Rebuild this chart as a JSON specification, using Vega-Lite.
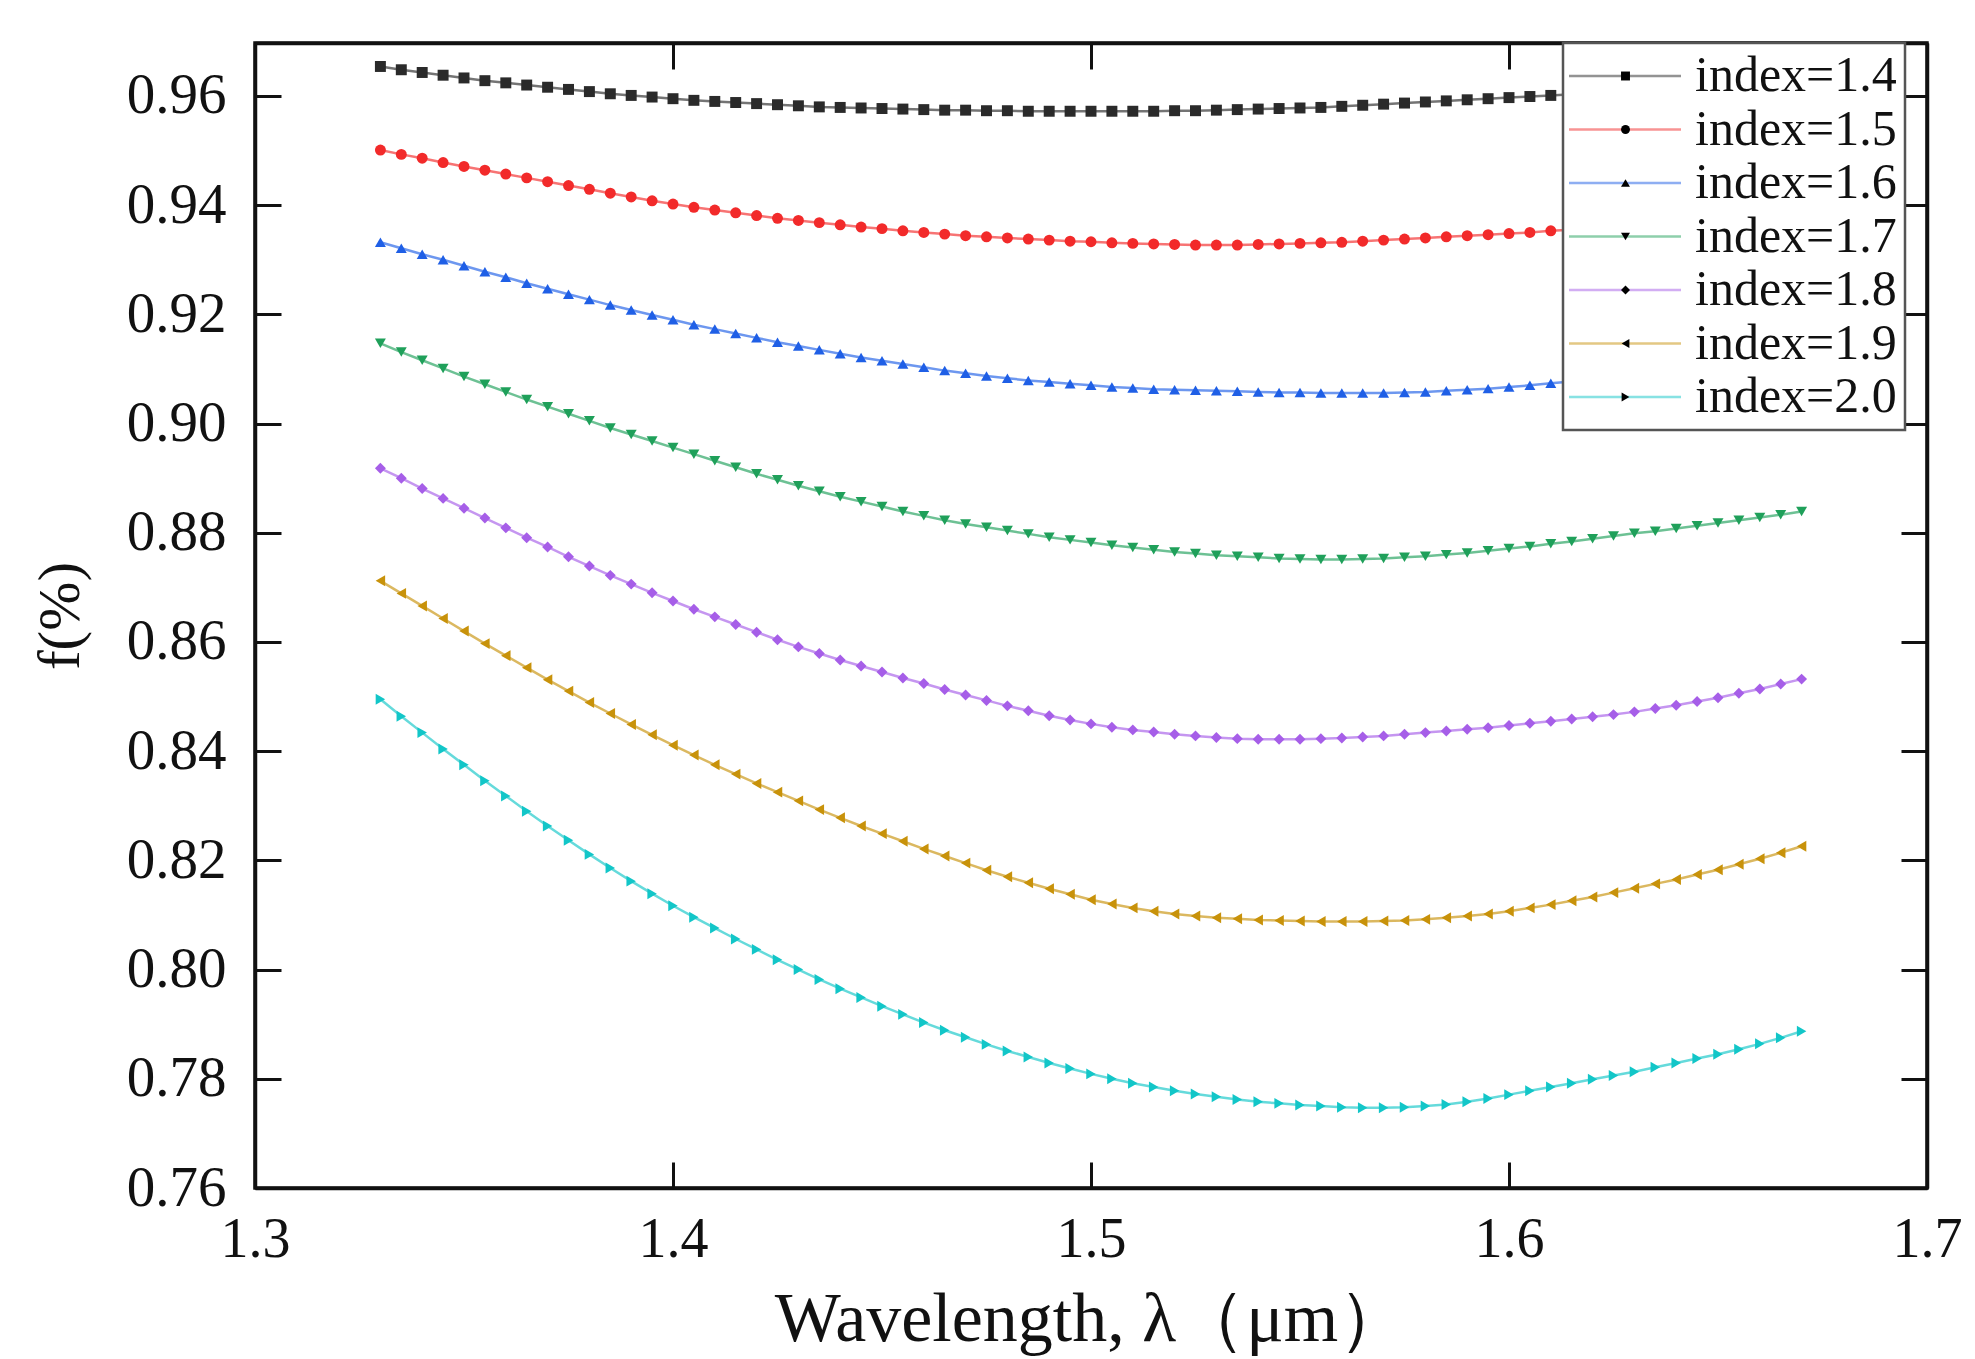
{
  "$schema": "https://vega.github.io/schema/vega-lite/v6.json",
  "autosize": "none",
  "width": 1672,
  "height": 1145,
  "padding": {"left": 255, "top": 43, "right": 48, "bottom": 171},
  "background": "white",
  "config": {
    "font": "Liberation Serif",
    "view": {"stroke": "#111111", "strokeWidth": 3.5},
    "axis": {
      "domainColor": "#111111",
      "domainWidth": 3.5,
      "tickColor": "#111111",
      "tickWidth": 3,
      "grid": false,
      "labelFont": "Liberation Serif",
      "titleFont": "Liberation Serif",
      "labelColor": "#111111",
      "titleColor": "#111111",
      "titleFontWeight": "normal"
    }
  },
  "data": {
    "values": [
      {"n":"1.4","x":1.330,"y":0.9654},{"n":"1.4","x":1.335,"y":0.9648},{"n":"1.4","x":1.340,"y":0.9643},{"n":"1.4","x":1.345,"y":0.9638},{"n":"1.4","x":1.350,"y":0.9633},{"n":"1.4","x":1.355,"y":0.9628},{"n":"1.4","x":1.360,"y":0.9624},{"n":"1.4","x":1.365,"y":0.9620},{"n":"1.4","x":1.370,"y":0.9616},{"n":"1.4","x":1.375,"y":0.9612},{"n":"1.4","x":1.380,"y":0.9608},{"n":"1.4","x":1.385,"y":0.9604},{"n":"1.4","x":1.390,"y":0.9601},{"n":"1.4","x":1.395,"y":0.9598},{"n":"1.4","x":1.400,"y":0.9595},{"n":"1.4","x":1.405,"y":0.9592},{"n":"1.4","x":1.410,"y":0.9590},{"n":"1.4","x":1.415,"y":0.9588},{"n":"1.4","x":1.420,"y":0.9586},{"n":"1.4","x":1.425,"y":0.9584},{"n":"1.4","x":1.430,"y":0.9582},{"n":"1.4","x":1.435,"y":0.9580},{"n":"1.4","x":1.440,"y":0.9579},{"n":"1.4","x":1.445,"y":0.9578},{"n":"1.4","x":1.450,"y":0.9577},{"n":"1.4","x":1.455,"y":0.9576},{"n":"1.4","x":1.460,"y":0.9575},{"n":"1.4","x":1.465,"y":0.9574},{"n":"1.4","x":1.470,"y":0.9574},{"n":"1.4","x":1.475,"y":0.9573},{"n":"1.4","x":1.480,"y":0.9573},{"n":"1.4","x":1.485,"y":0.9572},{"n":"1.4","x":1.490,"y":0.9572},{"n":"1.4","x":1.495,"y":0.9572},{"n":"1.4","x":1.500,"y":0.9572},{"n":"1.4","x":1.505,"y":0.9572},{"n":"1.4","x":1.510,"y":0.9572},{"n":"1.4","x":1.515,"y":0.9572},{"n":"1.4","x":1.520,"y":0.9573},{"n":"1.4","x":1.525,"y":0.9573},{"n":"1.4","x":1.530,"y":0.9574},{"n":"1.4","x":1.535,"y":0.9575},{"n":"1.4","x":1.540,"y":0.9576},{"n":"1.4","x":1.545,"y":0.9577},{"n":"1.4","x":1.550,"y":0.9578},{"n":"1.4","x":1.555,"y":0.9579},{"n":"1.4","x":1.560,"y":0.9581},{"n":"1.4","x":1.565,"y":0.9583},{"n":"1.4","x":1.570,"y":0.9585},{"n":"1.4","x":1.575,"y":0.9587},{"n":"1.4","x":1.580,"y":0.9589},{"n":"1.4","x":1.585,"y":0.9591},{"n":"1.4","x":1.590,"y":0.9593},{"n":"1.4","x":1.595,"y":0.9595},{"n":"1.4","x":1.600,"y":0.9597},{"n":"1.4","x":1.605,"y":0.9599},{"n":"1.4","x":1.610,"y":0.9601},{"n":"1.4","x":1.615,"y":0.9603},{"n":"1.4","x":1.620,"y":0.9605},{"n":"1.4","x":1.625,"y":0.9607},{"n":"1.4","x":1.630,"y":0.9609},{"n":"1.4","x":1.635,"y":0.9611},{"n":"1.4","x":1.640,"y":0.9613},{"n":"1.4","x":1.645,"y":0.9615},{"n":"1.4","x":1.650,"y":0.9618},{"n":"1.4","x":1.655,"y":0.9620},{"n":"1.4","x":1.660,"y":0.9622},{"n":"1.4","x":1.665,"y":0.9624},{"n":"1.4","x":1.670,"y":0.9627},
      {"n":"1.5","x":1.330,"y":0.9501},{"n":"1.5","x":1.335,"y":0.9493},{"n":"1.5","x":1.340,"y":0.9486},{"n":"1.5","x":1.345,"y":0.9478},{"n":"1.5","x":1.350,"y":0.9471},{"n":"1.5","x":1.355,"y":0.9464},{"n":"1.5","x":1.360,"y":0.9457},{"n":"1.5","x":1.365,"y":0.9450},{"n":"1.5","x":1.370,"y":0.9443},{"n":"1.5","x":1.375,"y":0.9436},{"n":"1.5","x":1.380,"y":0.9429},{"n":"1.5","x":1.385,"y":0.9422},{"n":"1.5","x":1.390,"y":0.9415},{"n":"1.5","x":1.395,"y":0.9408},{"n":"1.5","x":1.400,"y":0.9402},{"n":"1.5","x":1.405,"y":0.9396},{"n":"1.5","x":1.410,"y":0.9391},{"n":"1.5","x":1.415,"y":0.9386},{"n":"1.5","x":1.420,"y":0.9381},{"n":"1.5","x":1.425,"y":0.9376},{"n":"1.5","x":1.430,"y":0.9372},{"n":"1.5","x":1.435,"y":0.9368},{"n":"1.5","x":1.440,"y":0.9364},{"n":"1.5","x":1.445,"y":0.9360},{"n":"1.5","x":1.450,"y":0.9357},{"n":"1.5","x":1.455,"y":0.9353},{"n":"1.5","x":1.460,"y":0.9350},{"n":"1.5","x":1.465,"y":0.9347},{"n":"1.5","x":1.470,"y":0.9344},{"n":"1.5","x":1.475,"y":0.9342},{"n":"1.5","x":1.480,"y":0.9340},{"n":"1.5","x":1.485,"y":0.9338},{"n":"1.5","x":1.490,"y":0.9336},{"n":"1.5","x":1.495,"y":0.9334},{"n":"1.5","x":1.500,"y":0.9333},{"n":"1.5","x":1.505,"y":0.9331},{"n":"1.5","x":1.510,"y":0.9330},{"n":"1.5","x":1.515,"y":0.9329},{"n":"1.5","x":1.520,"y":0.9328},{"n":"1.5","x":1.525,"y":0.9327},{"n":"1.5","x":1.530,"y":0.9327},{"n":"1.5","x":1.535,"y":0.9327},{"n":"1.5","x":1.540,"y":0.9328},{"n":"1.5","x":1.545,"y":0.9329},{"n":"1.5","x":1.550,"y":0.9330},{"n":"1.5","x":1.555,"y":0.9331},{"n":"1.5","x":1.560,"y":0.9332},{"n":"1.5","x":1.565,"y":0.9334},{"n":"1.5","x":1.570,"y":0.9336},{"n":"1.5","x":1.575,"y":0.9338},{"n":"1.5","x":1.580,"y":0.9340},{"n":"1.5","x":1.585,"y":0.9342},{"n":"1.5","x":1.590,"y":0.9344},{"n":"1.5","x":1.595,"y":0.9346},{"n":"1.5","x":1.600,"y":0.9348},{"n":"1.5","x":1.605,"y":0.9350},{"n":"1.5","x":1.610,"y":0.9353},{"n":"1.5","x":1.615,"y":0.9355},{"n":"1.5","x":1.620,"y":0.9358},{"n":"1.5","x":1.625,"y":0.9361},{"n":"1.5","x":1.630,"y":0.9364},{"n":"1.5","x":1.635,"y":0.9367},{"n":"1.5","x":1.640,"y":0.9370},{"n":"1.5","x":1.645,"y":0.9373},{"n":"1.5","x":1.650,"y":0.9376},{"n":"1.5","x":1.655,"y":0.9379},{"n":"1.5","x":1.660,"y":0.9383},{"n":"1.5","x":1.665,"y":0.9386},{"n":"1.5","x":1.670,"y":0.9390},
      {"n":"1.6","x":1.330,"y":0.9332},{"n":"1.6","x":1.335,"y":0.9321},{"n":"1.6","x":1.340,"y":0.9310},{"n":"1.6","x":1.345,"y":0.9300},{"n":"1.6","x":1.350,"y":0.9289},{"n":"1.6","x":1.355,"y":0.9278},{"n":"1.6","x":1.360,"y":0.9268},{"n":"1.6","x":1.365,"y":0.9257},{"n":"1.6","x":1.370,"y":0.9247},{"n":"1.6","x":1.375,"y":0.9237},{"n":"1.6","x":1.380,"y":0.9227},{"n":"1.6","x":1.385,"y":0.9217},{"n":"1.6","x":1.390,"y":0.9208},{"n":"1.6","x":1.395,"y":0.9199},{"n":"1.6","x":1.400,"y":0.9190},{"n":"1.6","x":1.405,"y":0.9181},{"n":"1.6","x":1.410,"y":0.9173},{"n":"1.6","x":1.415,"y":0.9165},{"n":"1.6","x":1.420,"y":0.9157},{"n":"1.6","x":1.425,"y":0.9149},{"n":"1.6","x":1.430,"y":0.9142},{"n":"1.6","x":1.435,"y":0.9135},{"n":"1.6","x":1.440,"y":0.9128},{"n":"1.6","x":1.445,"y":0.9121},{"n":"1.6","x":1.450,"y":0.9115},{"n":"1.6","x":1.455,"y":0.9109},{"n":"1.6","x":1.460,"y":0.9103},{"n":"1.6","x":1.465,"y":0.9097},{"n":"1.6","x":1.470,"y":0.9092},{"n":"1.6","x":1.475,"y":0.9087},{"n":"1.6","x":1.480,"y":0.9083},{"n":"1.6","x":1.485,"y":0.9079},{"n":"1.6","x":1.490,"y":0.9076},{"n":"1.6","x":1.495,"y":0.9073},{"n":"1.6","x":1.500,"y":0.9070},{"n":"1.6","x":1.505,"y":0.9067},{"n":"1.6","x":1.510,"y":0.9065},{"n":"1.6","x":1.515,"y":0.9063},{"n":"1.6","x":1.520,"y":0.9062},{"n":"1.6","x":1.525,"y":0.9061},{"n":"1.6","x":1.530,"y":0.9060},{"n":"1.6","x":1.535,"y":0.9059},{"n":"1.6","x":1.540,"y":0.9058},{"n":"1.6","x":1.545,"y":0.9057},{"n":"1.6","x":1.550,"y":0.9057},{"n":"1.6","x":1.555,"y":0.9056},{"n":"1.6","x":1.560,"y":0.9056},{"n":"1.6","x":1.565,"y":0.9056},{"n":"1.6","x":1.570,"y":0.9056},{"n":"1.6","x":1.575,"y":0.9057},{"n":"1.6","x":1.580,"y":0.9058},{"n":"1.6","x":1.585,"y":0.9060},{"n":"1.6","x":1.590,"y":0.9062},{"n":"1.6","x":1.595,"y":0.9064},{"n":"1.6","x":1.600,"y":0.9067},{"n":"1.6","x":1.605,"y":0.9070},{"n":"1.6","x":1.610,"y":0.9074},{"n":"1.6","x":1.615,"y":0.9077},{"n":"1.6","x":1.620,"y":0.9081},{"n":"1.6","x":1.625,"y":0.9085},{"n":"1.6","x":1.630,"y":0.9089},{"n":"1.6","x":1.635,"y":0.9093},{"n":"1.6","x":1.640,"y":0.9097},{"n":"1.6","x":1.645,"y":0.9101},{"n":"1.6","x":1.650,"y":0.9105},{"n":"1.6","x":1.655,"y":0.9109},{"n":"1.6","x":1.660,"y":0.9114},{"n":"1.6","x":1.665,"y":0.9118},{"n":"1.6","x":1.670,"y":0.9123},
      {"n":"1.7","x":1.330,"y":0.9147},{"n":"1.7","x":1.335,"y":0.9131},{"n":"1.7","x":1.340,"y":0.9116},{"n":"1.7","x":1.345,"y":0.9101},{"n":"1.7","x":1.350,"y":0.9086},{"n":"1.7","x":1.355,"y":0.9072},{"n":"1.7","x":1.360,"y":0.9058},{"n":"1.7","x":1.365,"y":0.9044},{"n":"1.7","x":1.370,"y":0.9031},{"n":"1.7","x":1.375,"y":0.9018},{"n":"1.7","x":1.380,"y":0.9005},{"n":"1.7","x":1.385,"y":0.8992},{"n":"1.7","x":1.390,"y":0.8980},{"n":"1.7","x":1.395,"y":0.8968},{"n":"1.7","x":1.400,"y":0.8956},{"n":"1.7","x":1.405,"y":0.8944},{"n":"1.7","x":1.410,"y":0.8932},{"n":"1.7","x":1.415,"y":0.8920},{"n":"1.7","x":1.420,"y":0.8908},{"n":"1.7","x":1.425,"y":0.8897},{"n":"1.7","x":1.430,"y":0.8886},{"n":"1.7","x":1.435,"y":0.8876},{"n":"1.7","x":1.440,"y":0.8866},{"n":"1.7","x":1.445,"y":0.8857},{"n":"1.7","x":1.450,"y":0.8848},{"n":"1.7","x":1.455,"y":0.8839},{"n":"1.7","x":1.460,"y":0.8831},{"n":"1.7","x":1.465,"y":0.8823},{"n":"1.7","x":1.470,"y":0.8816},{"n":"1.7","x":1.475,"y":0.8810},{"n":"1.7","x":1.480,"y":0.8804},{"n":"1.7","x":1.485,"y":0.8798},{"n":"1.7","x":1.490,"y":0.8792},{"n":"1.7","x":1.495,"y":0.8787},{"n":"1.7","x":1.500,"y":0.8782},{"n":"1.7","x":1.505,"y":0.8777},{"n":"1.7","x":1.510,"y":0.8773},{"n":"1.7","x":1.515,"y":0.8769},{"n":"1.7","x":1.520,"y":0.8765},{"n":"1.7","x":1.525,"y":0.8762},{"n":"1.7","x":1.530,"y":0.8759},{"n":"1.7","x":1.535,"y":0.8757},{"n":"1.7","x":1.540,"y":0.8755},{"n":"1.7","x":1.545,"y":0.8753},{"n":"1.7","x":1.550,"y":0.8752},{"n":"1.7","x":1.555,"y":0.8751},{"n":"1.7","x":1.560,"y":0.8751},{"n":"1.7","x":1.565,"y":0.8752},{"n":"1.7","x":1.570,"y":0.8753},{"n":"1.7","x":1.575,"y":0.8755},{"n":"1.7","x":1.580,"y":0.8757},{"n":"1.7","x":1.585,"y":0.8760},{"n":"1.7","x":1.590,"y":0.8763},{"n":"1.7","x":1.595,"y":0.8767},{"n":"1.7","x":1.600,"y":0.8771},{"n":"1.7","x":1.605,"y":0.8775},{"n":"1.7","x":1.610,"y":0.8780},{"n":"1.7","x":1.615,"y":0.8784},{"n":"1.7","x":1.620,"y":0.8789},{"n":"1.7","x":1.625,"y":0.8794},{"n":"1.7","x":1.630,"y":0.8799},{"n":"1.7","x":1.635,"y":0.8803},{"n":"1.7","x":1.640,"y":0.8808},{"n":"1.7","x":1.645,"y":0.8813},{"n":"1.7","x":1.650,"y":0.8818},{"n":"1.7","x":1.655,"y":0.8823},{"n":"1.7","x":1.660,"y":0.8828},{"n":"1.7","x":1.665,"y":0.8833},{"n":"1.7","x":1.670,"y":0.8839},
      {"n":"1.8","x":1.330,"y":0.8918},{"n":"1.8","x":1.335,"y":0.8900},{"n":"1.8","x":1.340,"y":0.8881},{"n":"1.8","x":1.345,"y":0.8863},{"n":"1.8","x":1.350,"y":0.8845},{"n":"1.8","x":1.355,"y":0.8827},{"n":"1.8","x":1.360,"y":0.8809},{"n":"1.8","x":1.365,"y":0.8791},{"n":"1.8","x":1.370,"y":0.8774},{"n":"1.8","x":1.375,"y":0.8756},{"n":"1.8","x":1.380,"y":0.8739},{"n":"1.8","x":1.385,"y":0.8722},{"n":"1.8","x":1.390,"y":0.8706},{"n":"1.8","x":1.395,"y":0.8690},{"n":"1.8","x":1.400,"y":0.8675},{"n":"1.8","x":1.405,"y":0.8660},{"n":"1.8","x":1.410,"y":0.8646},{"n":"1.8","x":1.415,"y":0.8632},{"n":"1.8","x":1.420,"y":0.8618},{"n":"1.8","x":1.425,"y":0.8604},{"n":"1.8","x":1.430,"y":0.8591},{"n":"1.8","x":1.435,"y":0.8579},{"n":"1.8","x":1.440,"y":0.8567},{"n":"1.8","x":1.445,"y":0.8556},{"n":"1.8","x":1.450,"y":0.8545},{"n":"1.8","x":1.455,"y":0.8534},{"n":"1.8","x":1.460,"y":0.8524},{"n":"1.8","x":1.465,"y":0.8513},{"n":"1.8","x":1.470,"y":0.8503},{"n":"1.8","x":1.475,"y":0.8493},{"n":"1.8","x":1.480,"y":0.8483},{"n":"1.8","x":1.485,"y":0.8474},{"n":"1.8","x":1.490,"y":0.8465},{"n":"1.8","x":1.495,"y":0.8457},{"n":"1.8","x":1.500,"y":0.8450},{"n":"1.8","x":1.505,"y":0.8444},{"n":"1.8","x":1.510,"y":0.8439},{"n":"1.8","x":1.515,"y":0.8435},{"n":"1.8","x":1.520,"y":0.8431},{"n":"1.8","x":1.525,"y":0.8428},{"n":"1.8","x":1.530,"y":0.8425},{"n":"1.8","x":1.535,"y":0.8423},{"n":"1.8","x":1.540,"y":0.8422},{"n":"1.8","x":1.545,"y":0.8422},{"n":"1.8","x":1.550,"y":0.8422},{"n":"1.8","x":1.555,"y":0.8423},{"n":"1.8","x":1.560,"y":0.8424},{"n":"1.8","x":1.565,"y":0.8426},{"n":"1.8","x":1.570,"y":0.8428},{"n":"1.8","x":1.575,"y":0.8431},{"n":"1.8","x":1.580,"y":0.8434},{"n":"1.8","x":1.585,"y":0.8437},{"n":"1.8","x":1.590,"y":0.8440},{"n":"1.8","x":1.595,"y":0.8443},{"n":"1.8","x":1.600,"y":0.8447},{"n":"1.8","x":1.605,"y":0.8451},{"n":"1.8","x":1.610,"y":0.8455},{"n":"1.8","x":1.615,"y":0.8459},{"n":"1.8","x":1.620,"y":0.8463},{"n":"1.8","x":1.625,"y":0.8467},{"n":"1.8","x":1.630,"y":0.8472},{"n":"1.8","x":1.635,"y":0.8478},{"n":"1.8","x":1.640,"y":0.8484},{"n":"1.8","x":1.645,"y":0.8491},{"n":"1.8","x":1.650,"y":0.8498},{"n":"1.8","x":1.655,"y":0.8506},{"n":"1.8","x":1.660,"y":0.8514},{"n":"1.8","x":1.665,"y":0.8523},{"n":"1.8","x":1.670,"y":0.8532},
      {"n":"1.9","x":1.330,"y":0.8712},{"n":"1.9","x":1.335,"y":0.8689},{"n":"1.9","x":1.340,"y":0.8666},{"n":"1.9","x":1.345,"y":0.8643},{"n":"1.9","x":1.350,"y":0.8620},{"n":"1.9","x":1.355,"y":0.8597},{"n":"1.9","x":1.360,"y":0.8575},{"n":"1.9","x":1.365,"y":0.8553},{"n":"1.9","x":1.370,"y":0.8531},{"n":"1.9","x":1.375,"y":0.8510},{"n":"1.9","x":1.380,"y":0.8489},{"n":"1.9","x":1.385,"y":0.8469},{"n":"1.9","x":1.390,"y":0.8449},{"n":"1.9","x":1.395,"y":0.8430},{"n":"1.9","x":1.400,"y":0.8411},{"n":"1.9","x":1.405,"y":0.8393},{"n":"1.9","x":1.410,"y":0.8375},{"n":"1.9","x":1.415,"y":0.8358},{"n":"1.9","x":1.420,"y":0.8341},{"n":"1.9","x":1.425,"y":0.8325},{"n":"1.9","x":1.430,"y":0.8309},{"n":"1.9","x":1.435,"y":0.8293},{"n":"1.9","x":1.440,"y":0.8278},{"n":"1.9","x":1.445,"y":0.8263},{"n":"1.9","x":1.450,"y":0.8249},{"n":"1.9","x":1.455,"y":0.8235},{"n":"1.9","x":1.460,"y":0.8221},{"n":"1.9","x":1.465,"y":0.8208},{"n":"1.9","x":1.470,"y":0.8195},{"n":"1.9","x":1.475,"y":0.8182},{"n":"1.9","x":1.480,"y":0.8170},{"n":"1.9","x":1.485,"y":0.8159},{"n":"1.9","x":1.490,"y":0.8148},{"n":"1.9","x":1.495,"y":0.8138},{"n":"1.9","x":1.500,"y":0.8128},{"n":"1.9","x":1.505,"y":0.8120},{"n":"1.9","x":1.510,"y":0.8113},{"n":"1.9","x":1.515,"y":0.8107},{"n":"1.9","x":1.520,"y":0.8102},{"n":"1.9","x":1.525,"y":0.8098},{"n":"1.9","x":1.530,"y":0.8095},{"n":"1.9","x":1.535,"y":0.8093},{"n":"1.9","x":1.540,"y":0.8091},{"n":"1.9","x":1.545,"y":0.8090},{"n":"1.9","x":1.550,"y":0.8089},{"n":"1.9","x":1.555,"y":0.8088},{"n":"1.9","x":1.560,"y":0.8088},{"n":"1.9","x":1.565,"y":0.8088},{"n":"1.9","x":1.570,"y":0.8089},{"n":"1.9","x":1.575,"y":0.8090},{"n":"1.9","x":1.580,"y":0.8092},{"n":"1.9","x":1.585,"y":0.8095},{"n":"1.9","x":1.590,"y":0.8098},{"n":"1.9","x":1.595,"y":0.8102},{"n":"1.9","x":1.600,"y":0.8107},{"n":"1.9","x":1.605,"y":0.8113},{"n":"1.9","x":1.610,"y":0.8119},{"n":"1.9","x":1.615,"y":0.8126},{"n":"1.9","x":1.620,"y":0.8133},{"n":"1.9","x":1.625,"y":0.8141},{"n":"1.9","x":1.630,"y":0.8149},{"n":"1.9","x":1.635,"y":0.8157},{"n":"1.9","x":1.640,"y":0.8165},{"n":"1.9","x":1.645,"y":0.8174},{"n":"1.9","x":1.650,"y":0.8183},{"n":"1.9","x":1.655,"y":0.8193},{"n":"1.9","x":1.660,"y":0.8203},{"n":"1.9","x":1.665,"y":0.8214},{"n":"1.9","x":1.670,"y":0.8226},
      {"n":"2.0","x":1.330,"y":0.8495},{"n":"2.0","x":1.335,"y":0.8464},{"n":"2.0","x":1.340,"y":0.8434},{"n":"2.0","x":1.345,"y":0.8404},{"n":"2.0","x":1.350,"y":0.8375},{"n":"2.0","x":1.355,"y":0.8346},{"n":"2.0","x":1.360,"y":0.8318},{"n":"2.0","x":1.365,"y":0.8290},{"n":"2.0","x":1.370,"y":0.8263},{"n":"2.0","x":1.375,"y":0.8237},{"n":"2.0","x":1.380,"y":0.8211},{"n":"2.0","x":1.385,"y":0.8186},{"n":"2.0","x":1.390,"y":0.8162},{"n":"2.0","x":1.395,"y":0.8139},{"n":"2.0","x":1.400,"y":0.8117},{"n":"2.0","x":1.405,"y":0.8096},{"n":"2.0","x":1.410,"y":0.8076},{"n":"2.0","x":1.415,"y":0.8056},{"n":"2.0","x":1.420,"y":0.8037},{"n":"2.0","x":1.425,"y":0.8018},{"n":"2.0","x":1.430,"y":0.8000},{"n":"2.0","x":1.435,"y":0.7982},{"n":"2.0","x":1.440,"y":0.7965},{"n":"2.0","x":1.445,"y":0.7949},{"n":"2.0","x":1.450,"y":0.7933},{"n":"2.0","x":1.455,"y":0.7918},{"n":"2.0","x":1.460,"y":0.7903},{"n":"2.0","x":1.465,"y":0.7889},{"n":"2.0","x":1.470,"y":0.7876},{"n":"2.0","x":1.475,"y":0.7863},{"n":"2.0","x":1.480,"y":0.7851},{"n":"2.0","x":1.485,"y":0.7840},{"n":"2.0","x":1.490,"y":0.7829},{"n":"2.0","x":1.495,"y":0.7819},{"n":"2.0","x":1.500,"y":0.7809},{"n":"2.0","x":1.505,"y":0.7800},{"n":"2.0","x":1.510,"y":0.7792},{"n":"2.0","x":1.515,"y":0.7785},{"n":"2.0","x":1.520,"y":0.7778},{"n":"2.0","x":1.525,"y":0.7772},{"n":"2.0","x":1.530,"y":0.7767},{"n":"2.0","x":1.535,"y":0.7762},{"n":"2.0","x":1.540,"y":0.7758},{"n":"2.0","x":1.545,"y":0.7755},{"n":"2.0","x":1.550,"y":0.7752},{"n":"2.0","x":1.555,"y":0.7750},{"n":"2.0","x":1.560,"y":0.7748},{"n":"2.0","x":1.565,"y":0.7747},{"n":"2.0","x":1.570,"y":0.7747},{"n":"2.0","x":1.575,"y":0.7748},{"n":"2.0","x":1.580,"y":0.7750},{"n":"2.0","x":1.585,"y":0.7753},{"n":"2.0","x":1.590,"y":0.7758},{"n":"2.0","x":1.595,"y":0.7764},{"n":"2.0","x":1.600,"y":0.7771},{"n":"2.0","x":1.605,"y":0.7778},{"n":"2.0","x":1.610,"y":0.7785},{"n":"2.0","x":1.615,"y":0.7792},{"n":"2.0","x":1.620,"y":0.7799},{"n":"2.0","x":1.625,"y":0.7806},{"n":"2.0","x":1.630,"y":0.7813},{"n":"2.0","x":1.635,"y":0.7821},{"n":"2.0","x":1.640,"y":0.7829},{"n":"2.0","x":1.645,"y":0.7837},{"n":"2.0","x":1.650,"y":0.7845},{"n":"2.0","x":1.655,"y":0.7854},{"n":"2.0","x":1.660,"y":0.7864},{"n":"2.0","x":1.665,"y":0.7875},{"n":"2.0","x":1.670,"y":0.7887}
    ]
  },
  "layer": [
    {
      "mark": {"type": "line", "strokeWidth": 2.5, "opacity": 0.65},
      "encoding": {
        "x": {
          "field": "x", "type": "quantitative",
          "scale": {"domain": [1.3, 1.7], "nice": false, "zero": false},
          "axis": {
            "orient": "bottom", "title": "Wavelength, λ（μm）",
            "values": [1.3, 1.4, 1.5, 1.6, 1.7], "format": ".1f",
            "tickSize": -26, "labelPadding": 50, "labelFontSize": 56,
            "titleFontSize": 70, "titlePadding": 18, "labelFlush": false
          }
        },
        "y": {
          "field": "y", "type": "quantitative",
          "scale": {"domain": [0.76, 0.9697], "nice": false, "zero": false},
          "axis": {
            "orient": "left", "title": "f(%)",
            "values": [0.76, 0.78, 0.8, 0.82, 0.84, 0.86, 0.88, 0.9, 0.92, 0.94, 0.96], "format": ".2f",
            "tickSize": -26, "labelPadding": 55, "labelFontSize": 57,
            "titleFontSize": 59, "titlePadding": 36, "labelFlush": false
          }
        },
        "color": {
          "field": "n", "type": "nominal",
          "scale": {
            "domain": ["1.4", "1.5", "1.6", "1.7", "1.8", "1.9", "2.0"],
            "range": ["#2a2a2a", "#f22a2a", "#1f5fe6", "#1fa05a", "#a65ee8", "#c8920a", "#12c6c8"]
          },
          "legend": {
            "title": null, "orient": "none", "legendX": 1308, "legendY": 0,
            "symbolType": "M-14,0H14", "symbolSize": 64, "symbolStrokeWidth": 2.5, "symbolOpacity": 0.5,
            "symbolOffset": 29,
            "labelExpr": "'index=' + datum.label", "labelFontSize": 50, "labelFont": "Liberation Serif",
            "labelColor": "#111111", "labelOffset": 45, "labelLimit": 500, "rowPadding": 3.5,
            "padding": 8, "fillColor": "white", "strokeColor": "#555555",
            "symbolLimit": 0,
            "encode": {"legend": {"update": {"strokeWidth": {"value": 2.5}}}}
          }
        },
        "detail": {"field": "n"}
      }
    },
    {
      "mark": {"type": "point", "filled": true, "size": 120, "opacity": 1},
      "encoding": {
        "x": {
          "field": "x", "type": "quantitative",
          "axis": {"orient": "top", "title": null, "values": [1.3, 1.4, 1.5, 1.6, 1.7], "labels": false, "tickSize": -26}
        },
        "y": {
          "field": "y", "type": "quantitative",
          "axis": {"orient": "right", "title": null, "values": [0.76, 0.78, 0.8, 0.82, 0.84, 0.86, 0.88, 0.9, 0.92, 0.94, 0.96], "labels": false, "tickSize": -26}
        },
        "color": {"field": "n", "type": "nominal"},
        "shape": {
          "field": "n", "type": "nominal",
          "scale": {"range": ["square", "circle", "triangle-up", "triangle-down", "diamond", "triangle-left", "triangle-right"]},
          "legend": {
            "title": null, "orient": "none", "legendX": 1308, "legendY": 0,
            "symbolSize": 80, "symbolOffset": 29.5,
            "labelExpr": "''", "labelFontSize": 50, "labelOffset": 14, "rowPadding": 3.5,
            "padding": 8,
            "encode": {"symbols": {"update": {"fill": {"scale": "color", "field": "value"}, "stroke": {"scale": "color", "field": "value"}, "opacity": {"value": 1}}}}
          }
        }
      }
    }
  ],
  "resolve": {"axis": {"x": "independent", "y": "independent"}}
}
